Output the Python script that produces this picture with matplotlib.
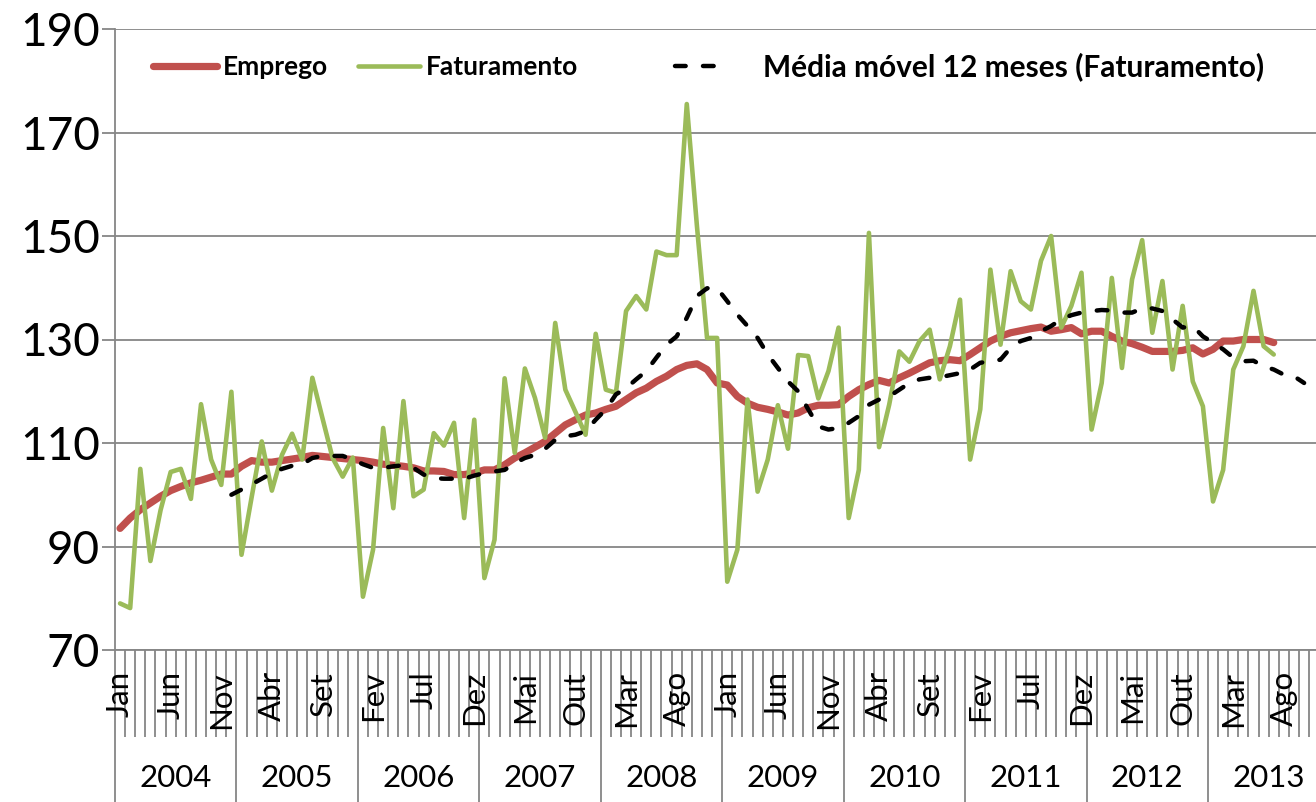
import matplotlib
matplotlib.use("Agg")
import matplotlib.pyplot as plt
import numpy as np
from matplotlib.font_manager import FontProperties

# ---------------- data ----------------
years = [2004, 2005, 2006, 2007, 2008, 2009, 2010, 2011, 2012, 2013]
months = ["Jan", "Fev", "Mar", "Abr", "Mai", "Jun", "Jul", "Ago", "Set", "Out", "Nov", "Dez"]

emprego = [93.5, 95.5, 97.1, 98.4, 99.7, 100.8, 101.6, 102.3, 102.8, 103.4, 104.0, 104.0,
           105.5, 106.6, 106.3, 106.3, 106.6, 106.9, 107.2, 107.6, 107.4, 107.2, 107.0, 106.8,
           106.6, 106.3, 105.9, 105.7, 105.5, 105.2, 104.6, 104.6, 104.5, 103.9, 103.9, 104.2,
           104.8, 104.8, 105.8, 107.1, 108.1, 109.2, 110.3, 111.9, 113.5, 114.5, 115.4, 115.8,
           116.5, 117.1, 118.4, 119.7, 120.6, 121.9, 122.9, 124.2, 125.0, 125.3, 124.2, 121.6,
           121.2, 119.0, 117.7, 116.9, 116.5, 116.0, 115.4, 115.8, 116.8, 117.3, 117.3, 117.4,
           119.0, 120.3, 121.3, 122.1, 121.6, 122.6, 123.5, 124.5, 125.5, 125.9, 126.1, 125.9,
           127.1, 128.4, 129.7, 130.6, 131.3, 131.7, 132.1, 132.4, 131.6, 131.9, 132.3, 131.1,
           131.6, 131.6, 130.6, 129.7, 129.2, 128.5, 127.7, 127.7, 127.7, 127.9, 128.4, 127.2,
           128.1, 129.7, 129.7, 130.0, 130.0, 130.0, 129.4]

faturamento = [79.0, 78.1, 105.0, 87.2, 97.0, 104.4, 105.0, 99.2, 117.5, 106.8, 101.9, 119.9,
               88.4, 99.5, 110.3, 100.8, 107.7, 111.8, 106.8, 122.6, 114.8, 107.1, 103.5, 107.2,
               80.3, 89.4, 112.9, 97.4, 118.1, 99.7, 101.0, 111.9, 109.5, 113.9, 95.5, 114.5,
               83.9, 91.3, 122.5, 108.1, 124.4, 118.7, 111.0, 133.2, 120.3, 116.0, 111.6, 131.1,
               120.3, 119.7, 135.5, 138.4, 135.8, 147.0, 146.3, 146.3, 175.5, 152.0, 130.3, 130.3,
               83.2, 89.4, 118.4, 100.6, 106.8, 117.3, 108.9, 127.0, 126.8, 118.6, 123.9, 132.3,
               95.5, 104.8, 150.6, 109.2, 117.4, 127.7, 125.7, 129.7, 131.9, 122.3, 128.7, 137.7,
               106.8, 116.5, 143.5, 129.0, 143.2, 137.4, 135.8, 145.2, 150.0, 132.3, 136.5, 142.9,
               112.6, 121.6, 141.9, 124.5, 141.6, 149.2, 131.3, 141.3, 124.2, 136.5, 121.9, 117.1,
               98.7, 104.8, 124.2, 128.7, 139.4, 128.7, 127.1]

# 12-month moving average (starts Dez 2004)
mm_start = 11
media_movel = [100.0, 101.0, 102.0, 103.1, 104.2, 105.0, 105.6, 105.9, 107.1, 107.5, 107.5, 107.5,
               106.8, 105.9, 105.2, 105.2, 105.5, 105.7, 105.2, 103.9, 103.2, 103.1, 103.1, 103.1,
               103.7, 104.2, 104.5, 104.8, 106.1, 107.1, 107.7, 108.9, 110.6, 111.3, 111.6, 112.3,
               114.5, 116.5, 119.4, 120.6, 122.3, 123.9, 126.5, 129.0, 130.6, 134.2, 138.4, 139.9,
               139.9, 137.4, 134.8, 132.6, 130.3, 127.1, 124.5, 121.9, 120.0, 116.5, 113.2, 112.6,
               112.9, 113.9, 115.2, 117.4, 118.4, 119.0, 120.3, 121.6, 122.3, 122.6, 122.7, 123.1,
               123.5, 124.2, 125.5, 125.8, 126.1, 128.4, 129.7, 130.3, 131.6, 132.6, 133.9, 134.7,
               135.2, 135.5, 135.7, 135.6, 135.2, 135.2, 136.0, 136.0, 135.5, 133.9, 132.3, 132.6,
               130.6, 129.4, 128.1, 126.5, 125.8, 125.9, 124.8, 124.2, 123.2, 122.9, 121.6]

yticks = [70, 90, 110, 130, 150, 170, 190]
labels = ["Emprego", "Faturamento", "Média móvel 12 meses (Faturamento)"]

# ---------------- layout ----------------
W, H = 1316, 802
fig = plt.figure(figsize=(W / 100, H / 100), dpi=100)
left_px, top_px, bottom_px = 115, 29, 650
month_px = 10.12
n_cat = len(years) * 12
ax = fig.add_axes([left_px / W, 1 - bottom_px / H, n_cat * month_px / W, (bottom_px - top_px) / H])

FAM = ["Lato", "DejaVu Sans"]
GRAY = "#868686"
RED = "#C0504D"
GREEN = "#9BBB59"

x_emp = np.arange(len(emprego))
x_fat = np.arange(len(faturamento))
x_mm = np.arange(mm_start, mm_start + len(media_movel))

l_emp, = ax.plot(x_emp, emprego, color=RED, lw=5.2, solid_capstyle="round",
                 solid_joinstyle="round", zorder=3)
l_fat, = ax.plot(x_fat, faturamento, color=GREEN, lw=3.3, solid_capstyle="round",
                 solid_joinstyle="round", zorder=4)
l_mm, = ax.plot(x_mm, media_movel, color="black", lw=3.2, dash_capstyle="round",
                dashes=(2.4, 3.9), zorder=5)

ax.set_xlim(-0.5, n_cat - 0.5)
ax.set_ylim(70, 190)
ax.set_yticks(yticks)
ax.set_yticklabels([str(v) for v in yticks], fontsize=33, family=FAM)
ax.yaxis.grid(True, color=GRAY, lw=1.3)
ax.set_axisbelow(True)
ax.tick_params(axis="y", length=9.4, width=1.3, color=GRAY, pad=1.5)

for s in ["top", "right"]:
    ax.spines[s].set_visible(False)
for s in ["left", "bottom"]:
    ax.spines[s].set_color(GRAY)
    ax.spines[s].set_linewidth(1.3)

# x axis: year separators (major) and month separators (minor)
ax.set_xticks(np.arange(-0.5, n_cat, 12))
ax.set_xticks(np.arange(-0.5, n_cat, 1), minor=True)
ax.set_xticklabels([])
ax.tick_params(axis="x", which="major", length=110, width=1.3, color=GRAY)
ax.tick_params(axis="x", which="minor", length=62.6, width=1.3, color=GRAY)

trans = ax.get_xaxis_transform()
cats = [m for y in years for m in months]
y_month = -(671 - bottom_px) / (bottom_px - top_px)
for i in range(0, n_cat, 5):
    ax.text(i, y_month, cats[i], transform=trans, rotation=90, ha="center", va="top",
            fontsize=22.5, family=FAM, clip_on=False)
y_year = -(778 - bottom_px) / (bottom_px - top_px)
for k, yr in enumerate(years):
    ax.text(12 * k + 5.5, y_year, str(yr), transform=trans, ha="center", va="center",
            fontsize=22.5, family=FAM, clip_on=False)

# legends (one per entry so that positions match)
yc = 1 - 67 / H
legend_specs = [
    (l_emp, labels[0], 153, 64, 6, 19),
    (l_fat, labels[1], 358, 62, 6, 19),
    (l_mm, labels[2], 675, 50, 38, 21.5),
]
for handle, lab, x0, hl, pad, size in legend_specs:
    fs_px = size * 100 / 72
    fp = FontProperties(family=FAM, weight="bold", size=size)
    fig.legend(handles=[handle], labels=[lab], loc="center left",
               bbox_to_anchor=(x0 / W, yc), frameon=False, borderpad=0,
               borderaxespad=0, handlelength=hl / fs_px, handletextpad=pad / fs_px,
               prop=fp)

fig.savefig("out.png", dpi=100)
